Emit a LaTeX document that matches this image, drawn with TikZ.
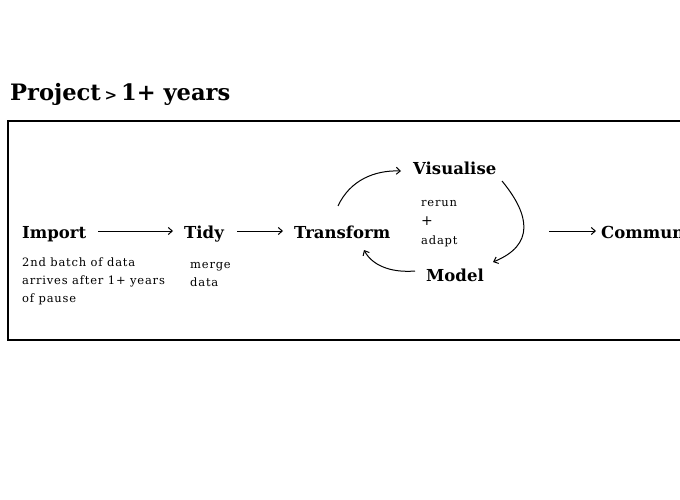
\documentclass[tikz,border=0pt]{standalone}
\usepackage{fontspec}
\setmainfont{DejaVu Serif}
\usetikzlibrary{arrows.meta}
\begin{document}
\begin{tikzpicture}[x=1pt,y=-1pt,
  stage/.style={font=\bfseries\fontsize{16.5}{18}\selectfont, inner sep=0pt, anchor=base west},
  note/.style={font=\fontsize{11.5}{18}\selectfont\addfontfeature{LetterSpace=7}, inner sep=0pt, anchor=north west, align=left},
  flow/.style={-{Straight Barb[length=4pt,width=7pt]}, line width=1pt},
  loopar/.style={-{Straight Barb[length=4pt,width=7pt]}, line width=1pt}]
\useasboundingbox (0,0) rectangle (680,500);
\clip (0,0) rectangle (680,500);
\node[font=\bfseries\fontsize{22.6}{24}\selectfont, inner sep=0pt, anchor=base west] (title) at (10,101) {Project\,{\fontsize{15}{16}\selectfont>}\,1+ years};
\draw[line width=1.2pt] (700,121) -- (8,121) -- (8,340) -- (700,340);
\node[stage] (import) at (22,238) {Import};
\node[stage] (tidy) at (184,238) {Tidy};
\node[stage] (transform) at (294,238) {Transform};
\node[stage] (vis) at (413,175) {Visualise};
\node[stage] (model) at (426,281) {Model};
\node[stage] (comm) at (601,238) {Communicate};
\node[note] (importnote) at (22,258) {2nd batch of data\\arrives after 1+ years\\of pause};
\node[note] (tidynote) at (190,262.5) {merge\\data};
\node[note] (rerun) at (421,200.5) {rerun\\[1pt]{\fontsize{14}{16}\selectfont+}\\[1pt]adapt};
\draw[flow] ([xshift=12pt]import.east |- 0,231) -- (173,231);
\draw[flow] (237,231) -- (283,231);
\draw[flow] (549,231) -- (596,231);
\coordinate (a1) at (338,206);
\coordinate (a2) at (401,171);
\draw[loopar] (a1) .. controls (350,180) and (375,170) .. (a2);
\coordinate (b1) at (502,181);
\coordinate (b2) at (493,262);
\draw[loopar] (b1) .. controls (530,215) and (535,245) .. (b2);
\coordinate (c1) at (415,271);
\coordinate (c2) at (364,250);
\draw[loopar] (c1) .. controls (390,273) and (372,265) .. (c2);
\end{tikzpicture}
\end{document}
